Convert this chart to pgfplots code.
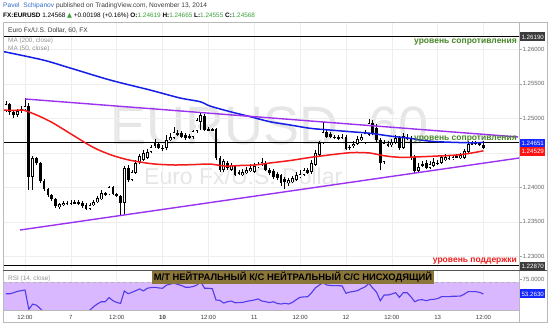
\documentclass[border=0pt]{standalone}
\usepackage{fontspec}
\setmainfont{Liberation Sans}
\newfontfamily\dejavu{DejaVu Sans}
\usepackage{pgfplots}
\usepackage{pgfplotstable}
\pgfplotsset{compat=1.18}
\usetikzlibrary{calc}

\definecolor{tvblue}{RGB}{50,110,200}
\definecolor{tvgreen}{RGB}{60,160,60}
\definecolor{txt}{RGB}{60,60,60}
\definecolor{lvlgreen}{RGB}{72,135,40}
\definecolor{lvlred}{RGB}{240,30,30}
\definecolor{tagdark}{RGB}{60,60,60}
\definecolor{tagblue}{RGB}{20,40,255}
\definecolor{tagred}{RGB}{255,20,20}
\definecolor{maBlue}{RGB}{20,30,230}
\definecolor{maRed}{RGB}{245,25,25}
\definecolor{trend}{RGB}{155,50,240}
\definecolor{rsiband}{RGB}{218,184,255}
\definecolor{rsiline}{RGB}{80,60,235}
\definecolor{boxcol}{RGB}{139,118,58}
\definecolor{wm}{RGB}{230,230,230}

\pgfplotstableread{
i O H L C
-5 1.25106 1.25251 1.25091 1.25207
-4 1.25207 1.25222 1.25048 1.25091
-3 1.25091 1.25120 1.25004 1.25048
-2 1.25048 1.25135 1.25019 1.25106
-1 1.25106 1.25178 1.25077 1.25135
0 1.25135 1.25294 1.25120 1.25178
1 1.25178 1.25222 1.23960 1.24149
2 1.24149 1.24453 1.23960 1.24424
3 1.24424 1.24439 1.24323 1.24352
4 1.24352 1.24366 1.24062 1.24091
5 1.24091 1.24120 1.23946 1.23975
6 1.23975 1.23989 1.23859 1.23888
7 1.23888 1.23902 1.23801 1.23830
8 1.23830 1.23844 1.23699 1.23728
9 1.23714 1.23772 1.23685 1.23757
10 1.23743 1.23801 1.23728 1.23772
11 1.23772 1.23801 1.23743 1.23772
12 1.23772 1.23815 1.23743 1.23772
13 1.23772 1.23815 1.23757 1.23786
14 1.23786 1.23815 1.23743 1.23772
15 1.23772 1.23801 1.23699 1.23728
16 1.23743 1.23772 1.23670 1.23685
17 1.23685 1.23772 1.23670 1.23743
18 1.23743 1.23815 1.23728 1.23786
19 1.23786 1.23873 1.23772 1.23844
20 1.23830 1.23960 1.23815 1.23917
21 1.23917 1.23931 1.23873 1.23902
22 1.23902 1.24018 1.23888 1.24004
23 1.24004 1.24018 1.23888 1.23902
24 1.23902 1.23917 1.23859 1.23873
25 1.23873 1.23888 1.23583 1.23772
26 1.23772 1.24308 1.23612 1.24279
27 1.24279 1.24323 1.24076 1.24105
28 1.24105 1.24250 1.24091 1.24221
29 1.24207 1.24395 1.24192 1.24352
30 1.24366 1.24482 1.24337 1.24453
31 1.24395 1.24540 1.24381 1.24497
32 1.24424 1.24555 1.24410 1.24511
33 1.24511 1.24613 1.24497 1.24584
34 1.24656 1.24700 1.24569 1.24598
35 1.24627 1.24656 1.24555 1.24569
36 1.24569 1.24613 1.24526 1.24569
37 1.24569 1.24758 1.24540 1.24685
38 1.24685 1.24787 1.24671 1.24729
39 1.24714 1.24874 1.24700 1.24801
40 1.24787 1.24830 1.24743 1.24772
41 1.24787 1.24816 1.24714 1.24729
42 1.24758 1.24787 1.24685 1.24714
43 1.24729 1.24772 1.24700 1.24743
44 1.24729 1.24830 1.24700 1.24816
45 1.24816 1.25004 1.24787 1.24975
46 1.24946 1.25077 1.24830 1.25048
47 1.25033 1.25062 1.24816 1.24830
48 1.24845 1.24874 1.24816 1.24830
49 1.24830 1.24859 1.24816 1.24845
50 1.24845 1.24859 1.24395 1.24424
51 1.24424 1.24453 1.24221 1.24250
52 1.24250 1.24410 1.24221 1.24381
53 1.24352 1.24381 1.24250 1.24279
54 1.24250 1.24352 1.24236 1.24323
55 1.24308 1.24323 1.24163 1.24178
56 1.24207 1.24250 1.24178 1.24221
57 1.24178 1.24265 1.24163 1.24221
58 1.24207 1.24294 1.24192 1.24250
59 1.24236 1.24337 1.24221 1.24279
60 1.24221 1.24352 1.24207 1.24308
61 1.24294 1.24366 1.24279 1.24337
62 1.24323 1.24424 1.24308 1.24366
63 1.24352 1.24381 1.24236 1.24250
64 1.24250 1.24279 1.24178 1.24207
65 1.24236 1.24265 1.24120 1.24149
66 1.24192 1.24221 1.24105 1.24134
67 1.24178 1.24192 1.24018 1.24062
68 1.24120 1.24149 1.23975 1.24076
69 1.24062 1.24134 1.24018 1.24105
70 1.24076 1.24163 1.24062 1.24134
71 1.24105 1.24221 1.24091 1.24178
72 1.24149 1.24250 1.24134 1.24192
73 1.24178 1.24279 1.24163 1.24250
74 1.24250 1.24279 1.24192 1.24207
75 1.24221 1.24395 1.24192 1.24352
76 1.24323 1.24540 1.24308 1.24497
77 1.24468 1.24671 1.24453 1.24642
78 1.24642 1.24946 1.24627 1.24801
79 1.24801 1.24830 1.24714 1.24729
80 1.24772 1.24801 1.24714 1.24729
81 1.24729 1.24758 1.24700 1.24729
82 1.24729 1.24758 1.24685 1.24714
83 1.24729 1.24772 1.24700 1.24729
84 1.24729 1.24758 1.24540 1.24555
85 1.24584 1.24613 1.24540 1.24584
86 1.24598 1.24671 1.24569 1.24627
87 1.24627 1.24743 1.24613 1.24700
88 1.24685 1.24772 1.24671 1.24729
89 1.24642 1.24830 1.24627 1.24787
90 1.24758 1.24990 1.24743 1.24932
91 1.24932 1.24975 1.24758 1.24787
92 1.24859 1.24917 1.24656 1.24685
93 1.24685 1.24714 1.24250 1.24352
94 1.24366 1.24685 1.24337 1.24642
95 1.24627 1.24671 1.24584 1.24613
96 1.24613 1.24700 1.24584 1.24656
97 1.24642 1.24758 1.24627 1.24714
98 1.24714 1.24743 1.24540 1.24569
99 1.24569 1.24787 1.24555 1.24743
100 1.24729 1.24772 1.24685 1.24714
101 1.24714 1.24743 1.24395 1.24439
102 1.24439 1.24468 1.24207 1.24236
103 1.24236 1.24352 1.24221 1.24294
104 1.24323 1.24381 1.24294 1.24337
105 1.24352 1.24395 1.24265 1.24279
106 1.24279 1.24381 1.24265 1.24337
107 1.24308 1.24424 1.24294 1.24366
108 1.24352 1.24395 1.24323 1.24352
109 1.24352 1.24468 1.24337 1.24439
110 1.24395 1.24482 1.24381 1.24439
111 1.24424 1.24453 1.24395 1.24424
112 1.24410 1.24468 1.24395 1.24439
113 1.24439 1.24482 1.24424 1.24453
114 1.24424 1.24497 1.24410 1.24468
115 1.24424 1.24555 1.24410 1.24526
116 1.24511 1.24671 1.24497 1.24627
117 1.24627 1.24671 1.24613 1.24642
118 1.24642 1.24671 1.24613 1.24642
119 1.24642 1.24656 1.24598 1.24627
120 1.24619 1.24665 1.24555 1.24568
}\candles

\pgfplotstableread{
i v
-5 53.5
-4 53.5
-3 55
-2 57
-1 58
0 59
1 31
2 38.5
3 37
4 32
5 26
6 22
7 20
8 16
9 18
10 18
11 19
12 19
13 20
14 20
15 19
16 27
17 30
18 35
19 39
20 42
21 42
22 48
23 43.5
24 41
25 39.5
26 57.6
27 53.5
28 55.7
29 58
30 60.5
31 57.6
32 61.5
33 62.5
34 62.9
35 62
36 61.5
37 66
38 67.5
39 68.7
40 67
41 65.5
42 62.9
43 63
44 64
45 66.3
46 71
47 61.5
48 61.5
49 61
50 44.5
51 44
52 40
53 42
54 43
55 40.5
56 40.7
57 41
58 42.5
59 43.5
60 44.5
61 46
62 43
63 42
64 40.7
65 42
66 39.5
67 38.7
68 39.7
69 38.7
70 41
71 45
72 48.4
73 49
74 49.3
75 55
76 62
77 66
78 69.6
79 66.3
80 65.5
81 65.3
82 65.3
83 65
84 54.2
85 56
86 57
87 58
88 61
89 63.5
90 68.7
91 62
92 56
93 43.5
94 51.7
95 51.7
96 53.2
97 55.1
98 48.4
99 55.1
100 55
101 49.3
102 42
103 44.5
104 45
105 43.5
106 45
107 45.5
108 46.5
109 49.3
110 49.5
111 49.3
112 50
113 50
114 50.3
115 53
116 56.6
117 56.6
118 56.6
119 55.5
120 53.26
}\rsi

\newcommand{\ptag}[3]{\node[anchor=west, fill=#2, text=white, inner xsep=1.3pt, inner ysep=0pt, minimum height=9pt, font=\fontsize{6.2}{6.2}\selectfont] at (520,324-#1) {#3};}

\begin{document}
\begin{tikzpicture}[x=1pt,y=1pt]
\fill[white] (0,0) rectangle (550,324);

% watermark
\node[anchor=base west, inner sep=0, font=\fontsize{54}{54}\selectfont, text=wm] at (110,324-145) {EURUSD, 60};
\node[anchor=base west, inner sep=0, font=\fontsize{23}{23}\selectfont, text=wm] at (144,324-185) {Euro Fx/U.S. Dollar};

\begin{axis}[
  at={(3pt,56pt)}, anchor=south west, width=516pt, height=246pt, scale only axis,
  xmin=-5.76, xmax=129.3, ymin=1.228304, ymax=1.263957,
  axis line style={draw=none},
  xtick={0,12,...,120}, xticklabels={},
  major x tick style={draw=none},
  ytick={1.23,1.235,1.24,1.245,1.25,1.255,1.26},
  ytick pos=right, yticklabel pos=right,
  tick align=outside, major tick length=2.5pt,
  major y tick style={draw=gray!70, line width=0.4pt},
  grid=major, major grid style={draw=gray!13, line width=0.5pt},
  scaled y ticks=false,
  /pgf/number format/assume math mode=true,
  yticklabel style={font=\fontsize{6}{6}\selectfont, text=gray!80!black, inner sep=1pt, /pgf/number format/.cd, fixed, fixed zerofill, precision=5},
]
% horizontal levels
\addplot[black, line width=1.1pt] coordinates {(-5.76,1.2619) (129.3,1.2619)};
\addplot[black, line width=1.0pt] coordinates {(-5.76,1.2465) (129.3,1.2465)};
\addplot[black, line width=1.1pt] coordinates {(-5.76,1.2287) (129.3,1.2287)};
% wicks
\addplot[draw=none, mark=none, error bars/.cd, y dir=plus, y explicit, error mark=none,
  error bar style={draw=black, line width=0.7pt}]
  table[x=i, y=L, y error expr=\thisrow{H}-\thisrow{L}] {\candles};
% bodies
\addplot[draw=none, mark=none, error bars/.cd, y dir=both, y explicit, error mark=none,
  error bar style={draw=black, line width=2.7pt}]
  table[x=i, y expr=(\thisrow{O}+\thisrow{C})/2, y error expr={max(abs(\thisrow{C}-\thisrow{O})/2,0.00005)}] {\candles};
\addplot[draw=none, mark=none, error bars/.cd, y dir=both, y explicit, error mark=none,
  error bar style={draw=white, line width=1.3pt}]
  table[x=i, y expr=(\thisrow{O}+\thisrow{C})/2, y error expr={(\thisrow{C}>\thisrow{O})*max(abs(\thisrow{C}-\thisrow{O})/2-0.00009,0)}] {\candles};
% MA 200
\addplot[maBlue, line width=1.5pt, smooth] coordinates {
(-5.76,1.25968) (4.7,1.25845) (11.8,1.25729) (22.25,1.25555) (32.7,1.25410) (40.6,1.25294)
(45.8,1.25241) (48.4,1.25178) (53.7,1.25096) (59,1.25023) (64.1,1.24950) (69.4,1.24903)
(74.6,1.24855) (79.8,1.24830) (85.1,1.24806) (90.3,1.24783) (95.5,1.24743) (100.8,1.24710)
(103.4,1.24685) (107.8,1.24661) (116.5,1.24645) (120,1.24651)};
% MA 50
\addplot[maRed, line width=1.5pt, smooth] coordinates {
(-5.76,1.25120) (-3.14,1.25113) (-0.52,1.25120) (0.79,1.25098) (3.93,1.25026) (7.33,1.24932)
(11.0,1.24808) (14.4,1.24692) (17.0,1.24605) (19.6,1.24533) (23.0,1.24460) (26.7,1.24402)
(30.1,1.24366) (34.0,1.24337) (39.3,1.24323) (44.5,1.24330) (48.4,1.24337) (52.4,1.24308)
(56.3,1.24316) (60.2,1.24323) (64.1,1.24352) (69.4,1.24388) (75.4,1.24439) (81.7,1.24482)
(85.9,1.24504) (90.3,1.24497) (92.9,1.24468) (95.5,1.24446) (99.0,1.24432) (102.1,1.24439)
(107.9,1.24453) (113.1,1.24468) (116.5,1.24493) (120,1.24529)};
% trend lines
\addplot[trend, line width=1.4pt] coordinates {(0,1.25280) (129.06,1.24729)};
\addplot[trend, line width=1.4pt] coordinates {(-1.31,1.23381) (129.3,1.24424)};
\end{axis}

% RSI pane
\begin{axis}[
  at={(3pt,14pt)}, anchor=south west, width=516pt, height=40pt, scale only axis,
  xmin=-5.76, xmax=129.3, ymin=30, ymax=88,
  axis line style={draw=none},
  xtick={0,12,...,120},
  xticklabels={12:00,7,12:00,\textbf{10},12:00,11,12:00,12,12:00,13,12:00},
  xticklabel style={font=\fontsize{6}{6}\selectfont, text=txt, yshift=1pt},
  major x tick style={draw=none},
  ytick={75}, ytick pos=right, yticklabel pos=right,
  tick align=outside, major tick length=2.5pt,
  major y tick style={draw=gray!70, line width=0.4pt},
  xmajorgrids=true, major grid style={draw=gray!13, line width=0.5pt},
  /pgf/number format/assume math mode=true,
  yticklabel style={font=\fontsize{6}{6}\selectfont, text=gray!80!black, inner sep=1pt, /pgf/number format/.cd, fixed, fixed zerofill, precision=4},
]
\fill[rsiband] (axis cs:-5.76,30) rectangle (axis cs:129.3,70);
\draw[gray!60, dashed, line width=0.4pt] (axis cs:-5.76,70) -- (axis cs:129.3,70);
\addplot[rsiline, line width=1.1pt] table[x=i, y=v] {\rsi};
\end{axis}

% frame
\draw[gray!55, line width=0.6pt] (3,2) rectangle (547,302);
\draw[gray!55, line width=0.6pt] (519,2) -- (519,302);
\draw[gray!65!black, line width=0.9pt] (3,54) -- (547,54);
\draw[gray!55, line width=0.6pt] (3,14) -- (519,14);

% headers
\node[anchor=west, inner sep=0, font=\fontsize{6.6}{6.6}\selectfont, text=txt] at (3,324-6)
  {{\color{tvblue}Pavel\ \ Schipanov} published on TradingView.com, November 13, 2014};
\node[anchor=west, inner sep=0, font=\fontsize{6.4}{6.4}\selectfont, text=black] at (3,324-15.5)
  {\textbf{FX:EURUSD} 1.24568 {\color{tvgreen}\dejavu ▲} +0.00198 (+0.16\%) \textbf{O:}{\color{tvgreen}1.24619} \textbf{H:}{\color{tvgreen}1.24665} \textbf{L:}{\color{tvgreen}1.24555} \textbf{C:}{\color{tvgreen}1.24568}};
\node[anchor=west, inner sep=0, font=\fontsize{6.6}{6.6}\selectfont, text=txt] at (8,324-31) {Euro Fx/U.S. Dollar, 60, FX};
\node[anchor=west, inner sep=0, font=\fontsize{6.4}{6.4}\selectfont, text=gray!85] at (8,324-40.5) {MA (200, close)};
\node[anchor=west, inner sep=0, font=\fontsize{6.4}{6.4}\selectfont, text=gray!85] at (8,324-48.5) {MA (50, close)};
\node[anchor=west, inner sep=0, font=\fontsize{6.4}{6.4}\selectfont, text=gray!85] at (8,324-279) {RSI (14, close)};

% level labels
\node[anchor=east, inner sep=0, font=\bfseries\fontsize{8.5}{8.5}\selectfont, text=lvlgreen] at (517,324-42.5) {уровень сопротивления};
\node[anchor=east, inner sep=0, font=\bfseries\fontsize{8.5}{8.5}\selectfont, text=lvlgreen] at (517,324-139) {уровень сопротивления};
\node[anchor=east, inner sep=0, font=\bfseries\fontsize{8.5}{8.5}\selectfont, text=lvlred] at (517,324-261) {уровень поддержки};

% annotation box
\node[fill=boxcol, inner xsep=2pt, inner ysep=1.2pt, font=\bfseries\fontsize{9.4}{9.4}\selectfont, text=black] at (293,324-277.5) {М/Т НЕЙТРАЛЬНЫЙ К/С НЕЙТРАЛЬНЫЙ С/С НИСХОДЯЩИЙ};

% price tags
\ptag{37}{tagdark}{1.26190}
\ptag{143.3}{tagblue}{1.24651}
\ptag{151.5}{tagred}{1.24529}
\ptag{266.3}{tagdark}{1.22870}
\ptag{294}{tagblue}{53.2630}
\end{tikzpicture}
\end{document}
